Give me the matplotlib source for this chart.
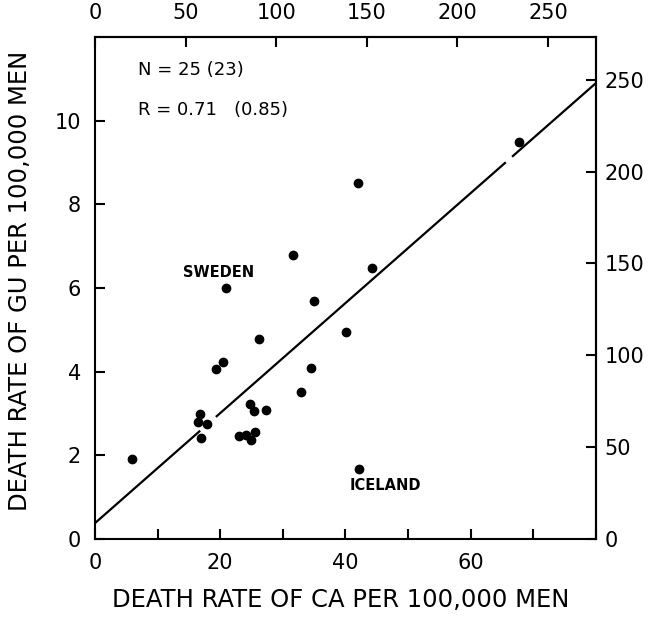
import matplotlib
matplotlib.use("Agg")
import matplotlib.pyplot as plt
import numpy as np

# Data
ca_rate = [42.0, 31.6, 44.3, 20.9, 35.0, 40.1, 26.2, 20.4, 19.4, 34.5, 32.9,
           24.7, 25.4, 27.3, 16.8, 16.5, 17.9, 16.9, 23.0, 24.1, 25.6, 24.9,
           5.9, 42.2, 67.7]
gu_rate = [8.50, 6.78, 6.47, 5.99, 5.68, 4.96, 4.77, 4.22, 4.06, 4.08, 3.51,
           3.22, 3.06, 3.08, 3.00, 2.79, 2.74, 2.41, 2.46, 2.48, 2.55, 2.36,
           1.91, 1.67, 9.50]
fit_intercept = 0.38
fit_slope = 0.1315
line_segments = [(0, 16.8), (19.3, 65.6), (66.6, 80)]

bottom_ticks = [0, 10, 20, 30, 40, 50, 60, 70, 80]
bottom_labels = ["0", "", "20", "", "40", "", "60", "", ""]
left_ticks = [0, 2, 4, 6, 8, 10]
top_ticks = [0, 50, 100, 150, 200, 250]
right_ticks = [0, 50, 100, 150, 200, 250]
top_factor = 3.455
right_factor = 22.77

labels = {"SWEDEN": (19.8, 6.37), "ICELAND": (46.3, 1.29)}
stats_text = ["N = 25 (23)", "R = 0.71   (0.85)"]

fig = plt.figure(figsize=(6.56, 6.17), dpi=100)
ax = fig.add_axes([0.1448, 0.1264, 0.9085 - 0.1448, 0.94 - 0.1264])

for x0, x1 in line_segments:
    xs = np.array([x0, x1])
    ax.plot(xs, fit_intercept + fit_slope * xs, color="black", lw=1.6,
            solid_capstyle="butt")
ax.plot(ca_rate, gu_rate, "o", color="black", markersize=6, zorder=3)

ax.set_xlim(0, 80)
ax.set_ylim(0, 12)
ax.set_xticks(bottom_ticks)
ax.set_xticklabels(bottom_labels)
ax.set_yticks(left_ticks)

for s in ax.spines.values():
    s.set_linewidth(1.5)

ax.tick_params(direction="in", length=7, width=1.5, labelsize=15, pad=10)

secx = ax.secondary_xaxis("top", functions=(lambda x: x * top_factor,
                                             lambda x: x / top_factor))
secx.set_xticks(top_ticks)
secx.tick_params(direction="in", length=7, width=1.5, labelsize=15, pad=10)
secy = ax.secondary_yaxis("right", functions=(lambda y: y * right_factor,
                                               lambda y: y / right_factor))
secy.set_yticks(right_ticks)
secy.tick_params(direction="in", length=7, width=1.5, labelsize=15, pad=6)
for sec in (secx, secy):
    for s in sec.spines.values():
        s.set_linewidth(1.5)

ax.set_xlabel("DEATH RATE OF CA PER 100,000 MEN", fontsize=17.5)
ax.xaxis.set_label_coords(0.49, -0.098)
ax.set_ylabel("DEATH RATE OF GU PER 100,000 MEN", fontsize=17.5)
ax.yaxis.set_label_coords(-0.125, 0.515)

for name, (x, y) in labels.items():
    ax.text(x, y, name, fontsize=10.5, fontweight="bold", ha="center", va="center")

ax.text(0.085, 0.935, stats_text[0], transform=ax.transAxes, fontsize=13,
        ha="left", va="center")
ax.text(0.085, 0.855, stats_text[1], transform=ax.transAxes, fontsize=13,
        ha="left", va="center")

fig.savefig("out.png", dpi=100)
